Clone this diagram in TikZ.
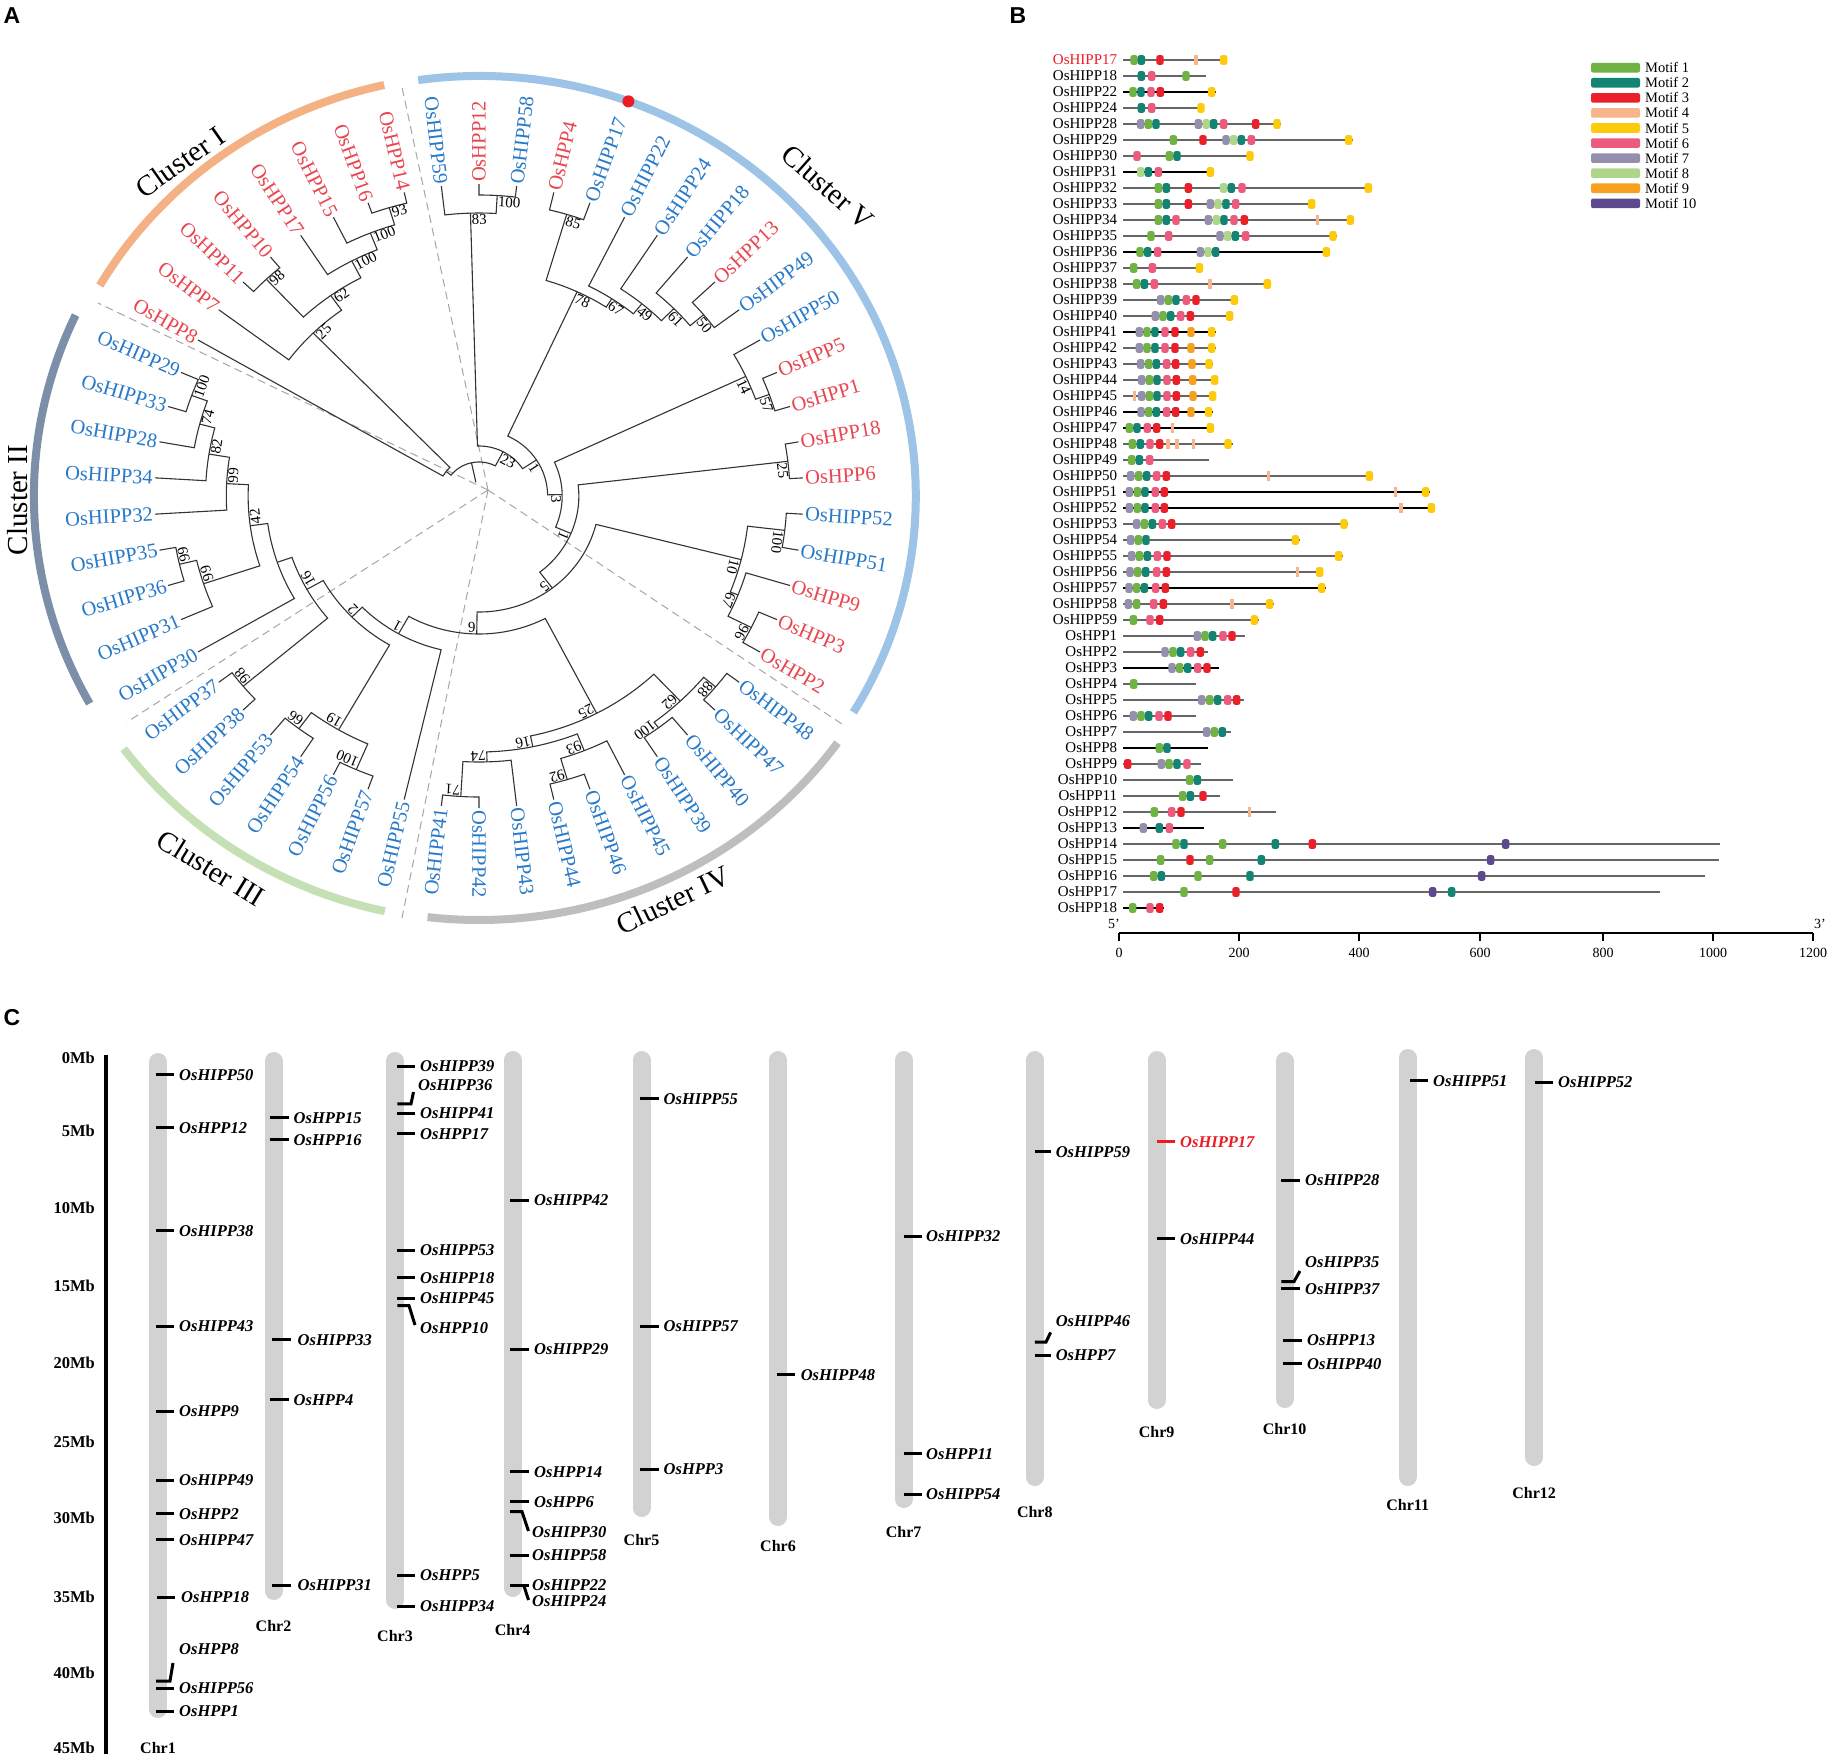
\documentclass[tikz,border=0pt]{standalone}
\usepackage{fontspec}
\setmainfont{Liberation Serif}
\newfontfamily\lsans{Liberation Sans}
\definecolor{hb}{RGB}{40,122,200}
\definecolor{hr}{RGB}{232,70,80}
\definecolor{cI}{RGB}{244,177,131}
\definecolor{cII}{RGB}{125,143,168}
\definecolor{cIII}{RGB}{197,224,180}
\definecolor{cIV}{RGB}{190,190,190}
\definecolor{cV}{RGB}{157,195,230}
\definecolor{mot1}{RGB}{112,178,68}
\definecolor{mot2}{RGB}{19,132,116}
\definecolor{mot3}{RGB}{233,32,42}
\definecolor{mot4}{RGB}{247,181,139}
\definecolor{mot5}{RGB}{253,203,10}
\definecolor{mot6}{RGB}{236,90,126}
\definecolor{mot7}{RGB}{147,143,173}
\definecolor{mot8}{RGB}{174,214,138}
\definecolor{mot9}{RGB}{247,161,31}
\definecolor{mot10}{RGB}{93,74,142}
\definecolor{chr}{RGB}{210,210,210}
\definecolor{redlab}{RGB}{237,28,36}
\tikzset{
  br/.style={line width=1.1pt, black!80},
  boot/.style={font=\fontsize{15}{16}\selectfont, inner sep=1pt},
  tip/.style={font=\fontsize{20.5}{22}\selectfont, inner sep=1pt},
  clab/.style={font=\fontsize{29}{30}\selectfont},
  dsh/.style={gray!70, line width=1pt, dash pattern=on 8pt off 5pt},
  gl/.style={line width=1.2pt, black!60},
  bl/.style={line width=1.9pt, black},
  blab/.style={anchor=east, inner sep=0pt, font=\fontsize{15}{16}\selectfont},
  leg/.style={anchor=west, inner sep=0pt, font=\fontsize{14.5}{16}\selectfont},
  axl/.style={font=\fontsize{14}{15}\selectfont},
  tick/.style={line width=3pt, black},
  gn/.style={font=\fontsize{16.5}{18}\selectfont\bfseries\itshape, inner sep=1pt, anchor=west},
  chrbar/.style={line width=18pt, chr, line cap=round},
  chl/.style={font=\fontsize{16}{18}\selectfont\bfseries},
  mb/.style={font=\fontsize{16.5}{18}\selectfont\bfseries, anchor=east, inner sep=0pt},
  panel/.style={font=\lsans\bfseries\fontsize{23}{24}\selectfont, inner sep=0pt}
}
\newcommand\cl[6]{%
  \pgfmathsetmacro\aA{96.6667-6.6667*(#1)}%
  \pgfmathsetmacro\aB{96.6667-6.6667*(#3)}%
  \pgfmathsetmacro\aM{96.6667-6.6667*((#1)+(#3))/2}%
  \draw[br] (\aA:#2) -- (\aA:#5) arc[start angle=\aA, end angle=\aB, radius=#5] -- (\aB:#4);
  \node[boot, rotate=\aM-90, anchor=north west] at (\aM:#5) {#6};}
\newcommand\clx[5]{%
  \pgfmathsetmacro\aA{96.6667-6.6667*(#1)}%
  \pgfmathsetmacro\aB{96.6667-6.6667*(#3)}%
  \draw[br] (\aA:#2) -- (\aA:#5) arc[start angle=\aA, end angle=\aB, radius=#5] -- (\aB:#4);}
\newcommand\tR[3]{\pgfmathsetmacro\aT{96.6667-6.6667*(#1)}%
  \node[tip,text=#3,rotate=\aT,anchor=west] (t-#2) at (\aT:313) {#2};}
\newcommand\tL[3]{\pgfmathsetmacro\aT{96.6667-6.6667*(#1)}%
  \node[tip,text=#3,rotate=\aT+180,anchor=east] (t-#2) at (\aT:313) {#2};}
\newcommand\mrow[5]{%
  \draw[#4] (250,#1) -- (#3,#1);
  \node[blab] (b-#1) at (232,#1) {#2};
  \foreach \mc/\mp in {#5}{\ifnum\mc=4\relax
      \fill[mot4] (\mp,#1) ++(-1.7pt,-4.8pt) rectangle ++(3.4pt,9.6pt);
    \else
      \fill[mot\mc,rounded corners=2.2pt] (\mp,#1) ++(-3.7pt,-4.8pt) rectangle ++(7.4pt,9.6pt);
    \fi}}
\newcommand\gene[5]{\draw[tick] (#2,#1) -- (#3,#1); \node[gn] (c-#5) at (#4,#1) {#5};}
\begin{document}
\begin{tikzpicture}[x=1pt,y=-1pt]
\fill[white] (0,0) rectangle (1828,1754);
\useasboundingbox (0,0) rectangle (1828,1754);
% ---------------- panel labels
\node[panel] (pA) at (12,16) {A};
\node[panel] (pB) at (1018,16) {B};
\node[panel] (pC) at (12,1018) {C};
% ---------------- Panel A
\coordinate (ctr) at (488,490);
\draw[dsh] (ctr) -- (402,87);
\draw[dsh] (ctr) -- (845,726);
\draw[dsh] (ctr) -- (402,918);
\draw[dsh] (ctr) -- (127,722);
\draw[dsh] (ctr) -- (98,303);
\begin{scope}[shift={(479,496)}, x=1.04pt, y=1pt]
\draw[cV, line width=8pt] (98:420) arc[start angle=98, end angle=-31, radius=420];
\draw[cI, line width=8pt] (102.5:421) arc[start angle=102.5, end angle=150, radius=421];
\draw[cII, line width=8pt] (155:428) arc[start angle=155, end angle=209, radius=428];
\draw[cIII, line width=8pt] (216.5:425) arc[start angle=216.5, end angle=257.7, radius=425];
\draw[cIV, line width=8pt] (263.3:424) arc[start angle=263.3, end angle=324.4, radius=424];
\node[circle, fill=redlab, minimum size=12pt, inner sep=0pt] (dot) at (70:420) {};
% cluster V
\cl{1}{312}{2}{312}{301}{100}
\cl{0}{312}{1.5}{301}{283}{83}
\cl{3}{312}{4}{312}{294}{85}
\cl{8}{312}{9}{312}{282}{50}
\cl{7}{312}{8.5}{282}{265}{61}
\cl{6}{312}{7.75}{265}{248}{49}
\cl{5}{312}{6.875}{248}{235}{67}
\cl{3.5}{294}{5.9375}{235}{225}{78}
\cl{11}{312}{12}{312}{297}{57}
\cl{10}{312}{11.5}{297}{283}{14}
\cl{13}{312}{14}{312}{299}{25}
\cl{15}{312}{16}{312}{296}{100}
\cl{18}{312}{19}{312}{293}{96}
\cl{17}{312}{18.5}{293}{268}{67}
\cl{15.5}{296}{17.75}{268}{260}{10}
% cluster IV
\cl{20}{312}{21}{312}{297}{88}
\cl{22}{312}{23}{312}{289}{100}
\cl{20.5}{297}{22.5}{289}{282}{62}
\cl{25}{312}{26}{312}{296}{92}
\cl{24}{312}{25.5}{296}{274}{93}
\cl{28}{312}{29}{312}{301}{71}
\cl{27}{312}{28.5}{301}{266}{74}
\cl{24.75}{274}{27.75}{266}{256}{16}
\cl{21.5}{282}{26.25}{256}{245}{25}
% cluster III
\cl{31}{312}{32}{312}{298}{100}
\cl{33}{312}{34}{312}{290}{66}
\cl{31.5}{298}{33.5}{290}{270}{19}
\cl{35}{312}{36}{312}{296}{98}
% cluster II
\cl{39}{312}{40}{312}{296}{99}
\cl{38}{312}{39.5}{296}{279}{99}
\cl{44}{312}{45}{312}{294}{100}
\cl{43}{312}{44.5}{294}{278}{74}
\cl{42}{312}{43.75}{278}{263}{82}
\cl{41}{312}{42.875}{263}{243}{99}
\cl{38.75}{279}{41.9375}{243}{222}{42}
\clx{37}{312}{40.34375}{222}{205}
\cl{35.5}{296}{38.671875}{205}{190}{16}
\cl{32.5}{270}{37.0859}{190}{172}{2}
\cl{30}{312}{34.793}{172}{158}{1}
% backbone
\cl{23.875}{245}{32.3965}{158}{138}{6}
\cl{16.625}{260}{28.1358}{138}{116}{5}
\cl{13.5}{299}{22.3804}{116}{96}{1}
\cl{10.75}{283}{17.9402}{96}{80}{3}
\cl{4.71875}{225}{14.3451}{80}{66}{1}
\cl{0.75}{283}{9.5319}{66}{50}{23}
% cluster I
\cl{-2}{312}{-1}{312}{301}{93}
\cl{-3}{312}{-1.5}{301}{283}{100}
\cl{-4}{312}{-2.25}{283}{265}{100}
\cl{-6}{312}{-5}{312}{298}{98}
\cl{-5.5}{298}{-3.125}{265}{246}{62}
\cl{-7}{312}{-4.3125}{246}{228}{25}
\clx{-8}{312}{-5.65625}{228}{40}
% root
\clx{-6.828}{40}{5.141}{50}{34}
\draw[br] (102.29:34) -- (102.29:14);
% tips
\tL{0}{OsHIPP59}{hb}
\tR{1}{OsHPP12}{hr}
\tR{2}{OsHIPP58}{hb}
\tR{3}{OsHPP4}{hr}
\tR{4}{OsHIPP17}{hb}
\tR{5}{OsHIPP22}{hb}
\tR{6}{OsHIPP24}{hb}
\tR{7}{OsHIPP18}{hb}
\tR{8}{OsHPP13}{hr}
\tR{9}{OsHIPP49}{hb}
\tR{10}{OsHIPP50}{hb}
\tR{11}{OsHPP5}{hr}
\tR{12}{OsHPP1}{hr}
\tR{13}{OsHPP18}{hr}
\tR{14}{OsHPP6}{hr}
\tR{15}{OsHIPP52}{hb}
\tR{16}{OsHIPP51}{hb}
\tR{17}{OsHPP9}{hr}
\tR{18}{OsHPP3}{hr}
\tR{19}{OsHPP2}{hr}
\tR{20}{OsHIPP48}{hb}
\tR{21}{OsHIPP47}{hb}
\tR{22}{OsHIPP40}{hb}
\tR{23}{OsHIPP39}{hb}
\tR{24}{OsHIPP45}{hb}
\tR{25}{OsHIPP46}{hb}
\tR{26}{OsHIPP44}{hb}
\tR{27}{OsHIPP43}{hb}
\tR{28}{OsHIPP42}{hb}
\tL{29}{OsHIPP41}{hb}
\tL{30}{OsHIPP55}{hb}
\tL{31}{OsHIPP57}{hb}
\tL{32}{OsHIPP56}{hb}
\tL{33}{OsHIPP54}{hb}
\tL{34}{OsHIPP53}{hb}
\tL{35}{OsHIPP38}{hb}
\tL{36}{OsHIPP37}{hb}
\tL{37}{OsHIPP30}{hb}
\tL{38}{OsHIPP31}{hb}
\tL{39}{OsHIPP36}{hb}
\tL{40}{OsHIPP35}{hb}
\tL{41}{OsHIPP32}{hb}
\tL{42}{OsHIPP34}{hb}
\tL{43}{OsHIPP28}{hb}
\tL{44}{OsHIPP33}{hb}
\tL{45}{OsHIPP29}{hb}
\tL{-8}{OsHPP8}{hr}
\tL{-7}{OsHPP7}{hr}
\tL{-6}{OsHPP11}{hr}
\tL{-5}{OsHPP10}{hr}
\tL{-4}{OsHPP17}{hr}
\tL{-3}{OsHPP15}{hr}
\tL{-2}{OsHPP16}{hr}
\tL{-1}{OsHPP14}{hr}
\end{scope}
\node[clab, rotate=35] (clI) at (180,162) {Cluster I};
\node[clab, rotate=90] (clII) at (18,500) {Cluster II};
\node[clab, rotate=-31.6] (clIII) at (211,868) {Cluster III};
\node[clab, rotate=25.5] (clIV) at (673,900) {Cluster IV};
\node[clab, rotate=-41.6] (clV) at (828,187) {Cluster V};
% ---------------- Panel B
\begin{scope}[shift={(1040,60)}, x=0.33333pt, y=-16pt]
\mrow{0}{\textcolor{redlab}{OsHIPP17}}{560}{gl}{1/282,2/304,3/360,4/468,5/551}
\mrow{1}{OsHIPP18}{497}{gl}{2/304,6/335,1/438}
\mrow{2}{OsHIPP22}{527}{bl}{1/279,2/303,6/333,3/361,5/515}
\mrow{3}{OsHIPP24}{492}{gl}{2/304,6/335,5/483}
\mrow{4}{OsHIPP28}{722}{gl}{7/302,1/325,2/348,7/475,8/499,2/521,6/551,3/647,5/711}
\mrow{5}{OsHIPP29}{938}{gl}{1/400,3/489,7/558,8/581,2/604,6/634,5/926}
\mrow{6}{OsHIPP30}{640}{gl}{6/291,1/388,2/411,5/630}
\mrow{7}{OsHIPP31}{520}{bl}{8/302,2/325,6/355,5/511}
\mrow{8}{OsHIPP32}{995}{gl}{1/355,2/379,3/445,8/551,2/574,6/606,5/985}
\mrow{9}{OsHIPP33}{826}{gl}{1/355,2/379,3/445,7/511,8/534,2/558,6/587,5/815}
\mrow{10}{OsHIPP34}{942}{gl}{1/355,2/379,6/408,7/505,8/529,2/552,6/582,3/613,4/833,5/931}
\mrow{11}{OsHIPP35}{890}{gl}{1/333,6/386,7/540,8/563,2/586,6/617,5/879}
\mrow{12}{OsHIPP36}{870}{bl}{1/300,2/323,6/353,7/481,8/504,2/527,5/859}
\mrow{13}{OsHIPP37}{488}{gl}{1/281,6/337,5/478}
\mrow{14}{OsHIPP38}{692}{gl}{1/290,2/313,6/343,4/510,5/682}
\mrow{15}{OsHIPP39}{593}{gl}{7/362,1/385,2/408,6/439,3/468,5/583}
\mrow{16}{OsHIPP40}{579}{gl}{7/346,1/369,2/392,6/422,3/451,5/569}
\mrow{17}{OsHIPP41}{527}{bl}{7/298,1/321,2/345,6/375,3/405,9/453,5/515}
\mrow{18}{OsHIPP42}{527}{gl}{7/298,1/321,2/345,6/375,3/405,9/453,5/515}
\mrow{19}{OsHIPP43}{518}{gl}{7/302,1/326,2/349,6/380,3/407,9/456,5/507}
\mrow{20}{OsHIPP44}{535}{gl}{7/305,1/328,2/351,6/381,3/409,9/458,5/524}
\mrow{21}{OsHIPP45}{528}{gl}{4/284,7/305,1/328,2/351,6/381,3/409,9/459,5/518}
\mrow{22}{OsHIPP46}{519}{bl}{7/303,1/326,2/349,6/380,3/407,9/453,5/506}
\mrow{23}{OsHIPP47}{520}{bl}{1/268,2/291,6/322,3/350,4/398,5/511}
\mrow{24}{OsHIPP48}{578}{gl}{1/277,2/301,6/330,3/359,4/384,4/411,4/460,5/564}
\mrow{25}{OsHIPP49}{507}{gl}{1/275,2/298,6/329}
\mrow{26}{OsHIPP50}{997}{gl}{7/272,1/296,2/320,6/350,3/379,4/686,5/988}
\mrow{27}{OsHIPP51}{1170}{bl}{7/268,1/292,2/315,6/346,3/373,4/1066,5/1157}
\mrow{28}{OsHIPP52}{1185}{bl}{7/268,1/292,2/315,6/346,3/373,4/1083,5/1174}
\mrow{29}{OsHIPP53}{925}{gl}{7/290,1/313,2/337,6/367,3/395,5/912}
\mrow{30}{OsHIPP54}{780}{gl}{7/272,1/295,2/318,5/766}
\mrow{31}{OsHIPP55}{908}{gl}{7/275,1/298,2/322,6/352,3/381,5/896}
\mrow{32}{OsHIPP56}{850}{gl}{7/270,1/293,2/317,6/350,3/379,4/772,5/839}
\mrow{33}{OsHIPP57}{858}{bl}{7/267,1/290,2/313,6/347,3/376,5/845}
\mrow{34}{OsHIPP58}{702}{gl}{7/265,1/290,6/341,3/370,4/576,5/689}
\mrow{35}{OsHIPP59}{657}{gl}{1/280,6/330,3/359,5/643}
\mrow{36}{OsHPP1}{615}{gl}{7/472,1/495,2/518,6/549,3/576}
\mrow{37}{OsHPP2}{503}{gl}{7/375,1/399,2/422,6/452,3/481}
\mrow{38}{OsHPP3}{538}{bl}{7/396,1/419,2/443,6/473,3/501}
\mrow{39}{OsHPP4}{467}{gl}{1/281}
\mrow{40}{OsHPP5}{612}{gl}{7/485,1/509,2/533,6/563,3/590}
\mrow{41}{OsHPP6}{469}{gl}{7/280,1/303,2/326,6/357,3/384}
\mrow{42}{OsHPP7}{572}{gl}{7/500,1/523,2/547}
\mrow{43}{OsHPP8}{503}{bl}{1/358,2/381}
\mrow{44}{OsHPP9}{483}{gl}{3/263,7/364,1/387,2/411,6/441}
\mrow{45}{OsHPP10}{579}{gl}{1/449,2/472}
\mrow{46}{OsHPP11}{539}{gl}{1/428,2/451,3/489}
\mrow{47}{OsHPP12}{709}{gl}{1/343,6/395,3/423,4/628}
\mrow{48}{OsHPP13}{492}{bl}{7/310,2/358,6/388}
\mrow{49}{OsHPP14}{2040}{gl}{1/408,2/432,1/548,2/706,3/817,10/1397}
\mrow{50}{OsHPP15}{2037}{gl}{1/362,3/450,1/509,2/664,10/1352}
\mrow{51}{OsHPP16}{1995}{gl}{1/341,2/364,1/474,2/630,10/1325}
\mrow{52}{OsHPP17}{1860}{gl}{1/432,3/588,10/1178,2/1235}
\mrow{53}{OsHPP18}{372}{bl}{1/278,6/330,3/359}
\end{scope}
\foreach \k in {1,...,10}{
  \pgfmathsetmacro\yy{67.7+15.07*(\k-1)}
  \fill[mot\k, rounded corners=2pt] (1591,\yy-4.8) rectangle (1640,\yy+4.8);
  \node[leg] (leg\k) at (1645,\yy) {Motif \k};
}
\draw[line width=1.6pt] (1119,933) -- (1813,933);
\foreach \x/\l in {1119/0,1239/200,1359/400,1480/600,1603/800,1713/1000,1813/1200}{
  \draw[line width=1.4pt] (\x,933) -- (\x,941);
  \node[axl] (ax\l) at (\x,953) {\l};
}
\node[axl] (five) at (1114,924) {5’};
\node[axl] (three) at (1820,924) {3’};
% ---------------- Panel C
\draw[line width=3.2pt] (106,1055) -- (106,1754);
\foreach \y/\l in {1057.7/0Mb,1130.6/5Mb,1207.8/10Mb,1286.2/15Mb,1363.3/20Mb,1442.3/25Mb,1518/30Mb,1597/35Mb,1673/40Mb,1748/45Mb}{
  \node[mb] (mb\l) at (95,\y) {\l};
}
\foreach \x/\t/\b/\ly/\n in {158/1053/1718/1748/1, 273.5/1052/1600/1626/2, 395/1052/1609/1636/3, 512.7/1051/1597/1630/4, 641.5/1051/1517/1540/5, 778/1051/1526/1546/6, 903.6/1051/1508/1532/7, 1034.8/1051/1486/1512/8, 1156.6/1051/1409/1432/9, 1284.6/1052/1408/1429/10, 1407.7/1049/1486/1505/11, 1534.2/1049/1466/1493/12}{
  \draw[chrbar] (\x,\t+9) -- (\x,\b-9);
  \node[chl] (chr\n) at (\x,\ly) {Chr\n};
}
% Chr1
\gene{1074.8}{156}{174}{178}{OsHIPP50}
\gene{1127.9}{156}{174}{178}{OsHPP12}
\gene{1230.8}{156}{174}{178}{OsHIPP38}
\gene{1326}{156}{174}{178}{OsHIPP43}
\gene{1411.4}{156}{174}{178}{OsHPP9}
\gene{1480.2}{156}{174}{178}{OsHIPP49}
\gene{1513.9}{156}{174}{178}{OsHPP2}
\gene{1539.7}{156}{174}{178}{OsHIPP47}
\gene{1597}{157}{175}{180}{OsHPP18}
\draw[tick] (156,1681) -- (170,1681) -- (173,1663);
\node[gn] (c-OsHPP8) at (178,1649) {OsHPP8};
\gene{1688}{156}{174}{178}{OsHIPP56}
\gene{1711}{156}{174}{178}{OsHPP1}
% Chr2
\gene{1117.7}{270}{288.6}{292.5}{OsHPP15}
\gene{1139.9}{270}{288.6}{292.5}{OsHPP16}
\gene{1339.8}{272}{290.6}{296.5}{OsHIPP33}
\gene{1399.8}{270}{288.6}{292.5}{OsHPP4}
\gene{1585.4}{272}{290.6}{296.5}{OsHIPP31}
% Chr3
\gene{1066}{397.3}{415}{419}{OsHIPP39}
\draw[tick] (397.3,1103.9) -- (411,1103.9) -- (413.5,1092);
\node[gn] (c-OsHIPP36) at (417,1085.4) {OsHIPP36};
\gene{1113.6}{397.3}{415}{419}{OsHIPP41}
\gene{1133.9}{397.3}{415}{419}{OsHPP17}
\gene{1250.2}{397.3}{415}{419}{OsHIPP53}
\gene{1277.9}{397.3}{415}{419}{OsHIPP18}
\gene{1298.2}{397.3}{415}{419}{OsHIPP45}
\draw[tick] (397.3,1305.6) -- (409,1305.6) -- (415,1325);
\node[gn] (c-OsHPP10) at (419,1327.8) {OsHPP10};
\gene{1575.3}{397.3}{415}{419}{OsHPP5}
\gene{1606.2}{397.3}{415}{419}{OsHIPP34}
% Chr4
\gene{1200.4}{510}{528.5}{533}{OsHIPP42}
\gene{1349.5}{510}{528.5}{533}{OsHIPP29}
\gene{1471.8}{510}{528.5}{533}{OsHPP14}
\gene{1501.9}{510}{528.5}{533}{OsHPP6}
\draw[tick] (510,1511.6) -- (522,1511.6) -- (528.5,1531);
\node[gn] (c-OsHIPP30) at (531,1532.3) {OsHIPP30};
\gene{1555.4}{510}{528.5}{531}{OsHIPP58}
\gene{1585.4}{510}{528.5}{531}{OsHIPP22}
\draw[tick] (523.8,1585.4) -- (528.5,1600);
\node[gn] (c-OsHIPP24) at (531,1601) {OsHIPP24};
% Chr5
\gene{1098.8}{639.5}{658.5}{662.5}{OsHIPP55}
\gene{1326}{639.5}{658.5}{662.5}{OsHIPP57}
\gene{1469}{639.5}{658.5}{662.5}{OsHPP3}
% Chr6
\gene{1374.9}{776.7}{794.9}{799.6}{OsHIPP48}
% Chr7
\gene{1236.4}{903.6}{922.2}{925}{OsHIPP32}
\gene{1453.8}{903.6}{922.2}{925}{OsHPP11}
\gene{1494.5}{903.6}{922.2}{925}{OsHIPP54}
% Chr8
\gene{1151.9}{1034.8}{1050.6}{1054.6}{OsHIPP59}
\draw[tick] (1034.8,1342.1) -- (1046,1342.1) -- (1050.6,1332.4);
\node[gn] (c-OsHIPP46) at (1054.6,1321.3) {OsHIPP46};
\gene{1355.5}{1034.8}{1050.6}{1054.6}{OsHPP7}
% Chr9
\draw[tick, redlab] (1157.4,1141.7) -- (1175.2,1141.7);
\node[gn, text=redlab] (c-OsHIPP17) at (1179,1141.7) {OsHIPP17};
\gene{1238.7}{1157.4}{1175.2}{1179}{OsHIPP44}
% Chr10
\gene{1180}{1281.3}{1299.9}{1304}{OsHIPP28}
\draw[tick] (1281.3,1281.6) -- (1294,1281.6) -- (1299.9,1271);
\node[gn] (c-OsHIPP35) at (1304,1262.2) {OsHIPP35};
\gene{1288.6}{1281.3}{1299.9}{1304}{OsHIPP37}
\gene{1340.3}{1283}{1301.5}{1306}{OsHPP13}
\gene{1363.8}{1283}{1301.5}{1306}{OsHIPP40}
% Chr11, Chr12
\gene{1080.8}{1409.8}{1428}{1432}{OsHIPP51}
\gene{1082.6}{1534.6}{1552.8}{1557}{OsHIPP52}
\end{tikzpicture}
\end{document}
